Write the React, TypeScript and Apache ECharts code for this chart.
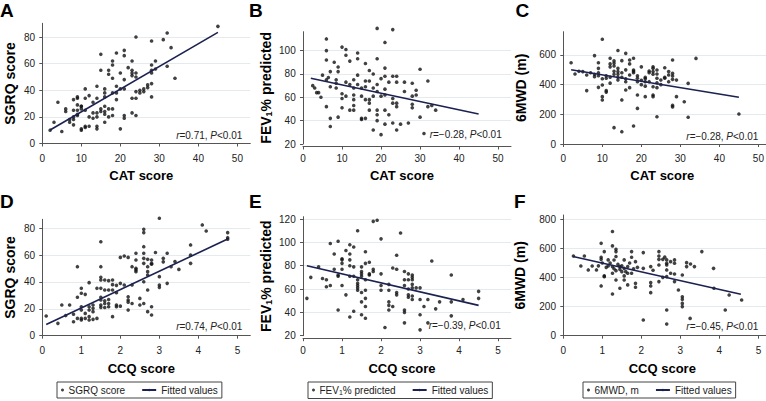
import React, { useEffect, useRef } from "react";
import * as echarts from "echarts";

// ---------- data ----------
// Panel A: CAT score vs SGRQ score
const pointsA: [number, number][] = [
  [45, 88], [32, 83], [31, 78], [24, 80], [28, 77], [33, 72], [15, 67], [19, 68], [21, 70], [21, 66],
  [18, 62], [23, 62], [18, 59], [29, 62], [28, 59], [32, 58], [15, 55], [17, 55], [17, 52], [18, 49],
  [22, 57], [23, 55], [23, 53], [23, 51], [24, 53], [29, 56], [28, 55], [28, 53], [20, 53], [21, 48],
  [24, 50], [34, 49], [27, 44], [28, 45], [26, 41], [25, 40], [26, 39], [24, 39], [27, 42], [19, 43],
  [20, 41], [21, 41], [19, 38], [18, 38], [19, 33], [16, 41], [16, 38], [16, 35], [14, 43], [11, 41],
  [12, 36], [11, 34], [14, 34], [13, 31], [9, 34], [8, 33], [4, 31], [9, 29], [10, 28], [10, 26],
  [6, 26], [6, 24], [8, 25], [9, 25], [11, 25], [15, 26], [16, 28], [17, 26], [18, 26], [16, 24],
  [15, 24], [13, 23], [14, 23], [14, 20], [13, 19], [12, 20], [16, 22], [18, 21], [17, 20], [16, 16],
  [12, 13], [11, 13], [10, 11], [10, 10], [11, 12], [14, 13], [14, 11], [8, 20], [8, 18], [8, 14],
  [7, 18], [7, 16], [9, 21], [9, 22], [3, 16], [2, 10], [5, 9], [20, 11], [21, 21], [21, 19],
  [23, 23], [24, 21], [23, 34], [24, 34], [25, 38], [28, 35], [9, 35], [10, 28],
];
const fitA: [number, number][] = [[2, 10.1], [45, 83.5]];

// Panel B: CAT score vs FEV1 % predicted
const pointsB: [number, number][] = [
  [19, 119], [23, 118], [6, 110], [6, 100], [6, 92], [6, 75], [6, 52], [7, 42], [7, 35], [8, 90],
  [9, 86], [10, 103], [11, 101], [11, 96], [12, 91], [14, 98], [16, 89], [17, 83], [19, 93], [21, 107],
  [21, 85], [24, 78], [30, 84], [32, 74], [2.5, 70], [3, 68], [3.5, 64], [4, 64], [5, 79], [6.5, 77],
  [7, 82], [7, 69], [8.5, 75], [8.5, 72], [8.5, 68], [10, 63], [10, 59], [11, 73], [11, 61], [12, 71],
  [13, 75], [13, 68], [13, 62], [13, 58], [13, 53], [13, 49], [14, 79], [14, 71], [15, 68], [15, 61],
  [15, 42], [16, 74], [16, 69], [16, 58], [16, 42], [17, 74], [17, 58], [17, 49], [18, 80], [18, 68],
  [18, 61], [18, 32], [19, 71], [19, 65], [19, 49], [19, 45], [20, 76], [20, 61], [20, 28], [21, 78],
  [21, 67], [21, 49], [21, 37], [22, 73], [22, 45], [23, 78], [23, 59], [23, 55], [23, 38], [24, 73],
  [24, 55], [24, 52], [24, 32], [25, 37], [26, 73], [26, 65], [27, 38], [28, 72], [28, 61], [28, 54],
  [28, 51], [29, 66], [29, 62], [30, 43], [31, 29], [32, 52], [33, 53], [34, 49], [4.6, 60], [9, 82],
  [9, 43], [14, 93], [17, 55], [21, 62], [19, 40], [10, 51], [12, 49], [15, 41],
];
const fitB: [number, number][] = [[2, 76.3], [45, 45.7]];

// Panel C: CAT score vs 6MWD (m)
const pointsC: [number, number][] = [
  [10, 706], [2, 548], [3, 472], [5, 488], [6, 360], [8, 596], [8, 454], [9, 548], [9, 510], [9, 382],
  [10, 398], [10, 319], [10, 297], [11, 443], [11, 360], [14, 630], [12, 578], [13, 560], [13, 544], [13, 526],
  [14, 510], [14, 488], [14, 470], [14, 450], [14, 431], [15, 562], [15, 297], [16, 611], [16, 500], [16, 364],
  [18, 578], [17, 566], [17, 465], [18, 499], [18, 481], [19, 443], [19, 420], [19, 330], [19, 240], [13, 110],
  [15, 83], [18, 121], [20, 520], [21, 449], [21, 420], [21, 319], [22, 492], [22, 481], [23, 521], [23, 510],
  [23, 488], [23, 386], [23, 330], [23, 319], [24, 499], [24, 472], [24, 443], [24, 413], [24, 184], [25, 431],
  [26, 514], [26, 443], [27, 488], [27, 465], [28, 566], [28, 476], [28, 458], [28, 436], [28, 260], [28, 250],
  [29, 431], [29, 319], [31, 285], [32, 409], [32, 180], [34, 577], [45, 202], [4, 490], [6, 465], [7, 480],
  [8, 470], [9, 480], [9, 460], [10, 440], [11, 460], [12, 450], [12, 520], [12, 540], [13, 490], [13, 470],
  [15, 480], [15, 450], [16, 440], [16, 420], [17, 380], [17, 540], [18, 490], [19, 460], [20, 430], [21, 390],
  [21, 440], [22, 420], [23, 470], [24, 380], [25, 400], [26, 450], [27, 420], [12, 410], [11, 350], [20, 400],
];
const fitC: [number, number][] = [[2, 500], [45, 315]];

// Panel D: CCQ score vs SGRQ score
const pointsD: [number, number][] = [
  [0.1, 14.7], [0.4, 9.2], [0.5, 22.9], [0.7, 22.9], [0.8, 10.4], [0.9, 28.6], [0.9, 12.9], [0.9, 51.4], [1.0, 35.3], [1.0, 31.6],
  [1.1, 30.8], [1.0, 21.6], [1.0, 19.1], [1.0, 12.9], [1.0, 11.7], [1.1, 16.6], [1.1, 12.9], [1.2, 39.5], [1.2, 21.6], [1.2, 19.1],
  [1.2, 14.2], [1.2, 11.7], [1.3, 22.9], [1.3, 20.4], [1.3, 17.9], [1.3, 12.2], [1.4, 35.3], [1.4, 12.9], [1.5, 70], [1.5, 51.4],
  [1.5, 43.5], [1.5, 41.5], [1.5, 35.3], [1.5, 28.6], [1.5, 26.6], [1.5, 22.9], [1.5, 21.1], [1.6, 34], [1.6, 26], [1.6, 24],
  [1.6, 21], [1.7, 41], [1.7, 34], [1.7, 27], [1.7, 24], [1.7, 21.6], [1.8, 41.5], [1.8, 38], [1.8, 34], [1.8, 14.2],
  [1.9, 37.5], [1.9, 32], [1.9, 22.9], [2.0, 58.3], [2.1, 59.4], [2.2, 58.3], [2.0, 39], [2.1, 37.8], [2.0, 22], [2.2, 29],
  [2.2, 26.6], [2.2, 19.1], [2.3, 51.4], [2.3, 37.8], [2.3, 24], [2.4, 61.4], [2.4, 56.4], [2.4, 50.2], [2.4, 49], [2.4, 47.7],
  [2.5, 27.8], [2.5, 22.9], [2.6, 76.8], [2.6, 61.4], [2.6, 57.6], [2.6, 53.9], [2.6, 40.2], [2.6, 24], [2.6, 66.3], [2.6, 79.3],
  [2.7, 56.9], [2.7, 51.4], [2.7, 47.7], [2.7, 45.2], [2.7, 17.9], [2.8, 56.4], [2.8, 53.9], [2.8, 53.2], [2.8, 21.6], [2.9, 62],
  [3.0, 87.5], [3.0, 44], [3.0, 37.8], [3.0, 36], [3.1, 57.6], [3.1, 55], [3.2, 61.4], [3.2, 39], [3.3, 51.4], [3.4, 55.2],
  [3.5, 49.4], [3.8, 60], [3.8, 67.6], [3.8, 53.9], [4.1, 82.5], [4.2, 78], [4.75, 76.8], [4.75, 73], [4.75, 71.8], [2.7, 34],
  [2.8, 15.4], [2.2, 25], [1.9, 21.6], [1.6, 41.5], [0.6, 15], [0.8, 16],
];
const fitD: [number, number][] = [[0.1, 8.4], [4.75, 72]];

// Panel E: CCQ score vs FEV1 % predicted
const pointsE: [number, number][] = [
  [0.1, 52], [0.2, 70], [0.4, 79], [0.5, 69], [0.6, 68], [0.6, 62], [0.7, 63], [0.7, 99], [0.8, 77], [0.8, 90],
  [0.9, 101], [0.9, 72], [0.9, 71], [0.9, 42], [1.0, 86], [1.0, 85], [1.0, 82], [1.0, 77], [1.0, 63], [1.1, 93],
  [1.1, 55], [1.2, 98], [1.2, 90], [1.2, 85], [1.2, 80], [1.2, 71], [1.2, 36], [1.3, 96], [1.3, 79], [1.3, 71],
  [1.3, 41], [1.4, 110], [1.4, 68], [1.4, 65], [1.4, 63], [1.4, 61], [1.4, 59], [1.5, 79], [1.5, 75], [1.5, 73],
  [1.5, 71], [1.5, 57], [1.5, 49], [1.5, 38], [1.6, 92], [1.6, 82], [1.6, 68], [1.6, 59], [1.6, 52], [1.6, 45],
  [1.6, 35], [1.7, 83], [1.7, 73], [1.7, 72], [1.8, 118], [1.9, 119], [1.8, 77], [1.8, 75], [2.0, 103], [2.0, 73],
  [2.0, 63], [2.0, 59], [2.1, 27], [2.2, 64], [2.2, 59], [2.2, 49], [2.2, 46], [2.2, 42], [2.3, 78], [2.4, 77],
  [2.3, 45], [2.4, 89], [2.4, 57], [2.4, 55], [2.5, 108], [2.6, 75], [2.6, 68], [2.6, 63], [2.6, 42], [2.6, 40],
  [2.6, 31], [2.7, 73], [2.7, 68], [2.7, 60], [2.7, 55], [2.7, 53], [2.8, 72], [2.8, 70], [2.8, 68], [2.8, 64],
  [2.8, 61], [2.8, 54], [2.8, 51], [2.9, 61], [3.0, 61], [3.0, 51], [3.0, 38], [3.0, 25], [3.1, 45], [3.2, 31],
  [3.3, 84], [3.2, 51], [3.4, 43], [3.5, 49], [3.8, 72], [3.8, 49], [3.8, 37], [4.1, 51], [4.5, 58], [4.5, 52],
];
const fitE: [number, number][] = [[0.1, 80], [4.5, 46]];

// Panel F: CCQ score vs 6MWD (m)
const pointsF: [number, number][] = [
  [0.26, 548], [0.54, 548], [0.45, 479], [0.64, 452], [0.74, 479], [0.85, 452], [0.97, 635], [0.97, 539], [0.97, 525], [0.97, 342],
  [1.05, 411], [1.05, 406], [1.05, 578], [1.15, 521], [1.15, 479], [1.26, 716], [1.26, 617], [1.26, 475], [1.26, 429], [1.26, 287],
  [1.35, 594], [1.35, 578], [1.35, 544], [1.35, 447], [1.35, 383], [1.45, 475], [1.45, 456], [1.45, 326], [1.56, 521], [1.56, 463],
  [1.56, 411], [1.56, 383], [1.65, 475], [1.65, 429], [1.65, 349], [1.75, 578], [1.75, 539], [1.75, 429], [1.85, 509], [1.85, 360],
  [1.85, 333], [2.05, 571], [2.05, 108], [2.05, 463], [2.24, 475], [2.24, 365], [2.24, 342], [2.24, 296], [2.45, 578], [2.45, 548],
  [2.45, 525], [2.45, 486], [2.45, 372], [2.55, 525], [2.55, 401], [2.65, 521], [2.65, 498], [2.65, 486], [2.65, 452], [2.65, 406],
  [2.65, 177], [2.65, 80], [2.75, 509], [2.75, 429], [2.85, 521], [2.85, 498], [2.85, 424], [2.85, 372], [2.95, 314], [3.05, 417],
  [3.05, 268], [3.05, 250], [3.05, 222], [3.05, 200], [3.16, 502], [3.16, 475], [3.25, 119], [3.26, 493], [3.36, 475], [3.55, 578],
  [3.85, 463], [3.86, 326], [4.15, 177], [4.25, 280], [4.57, 245], [1.1, 470], [1.2, 500], [1.3, 460], [1.4, 490], [1.5, 480],
  [1.6, 440], [1.7, 500], [1.8, 460], [1.9, 470], [1.0, 500], [1.3, 520], [1.5, 440], [2.3, 450], [2.6, 540], [0.9, 480],
];
const fitF: [number, number][] = [[0.25, 545], [4.55, 285]];

// ---------- text ----------
const xTitles = ["CAT score", "CAT score", "CAT score", "CCQ score", "CCQ score", "CCQ score"];
const yTitles = ["SGRQ score", "FEV{sub|1}% predicted", "6MWD (m)", "SGRQ score", "FEV{sub|1}% predicted", "6MWD (m)"];
const scatterNames = ["SGRQ score", "FEV1% predicted", "6MWD, m", "SGRQ score", "FEV1% predicted", "6MWD, m"];
const letters = ["A", "B", "C", "D", "E", "F"];
const corrTexts = [
  "{i|r}=0.71, {i|P}<0.01",
  "{i|r}=\u22120.28, {i|P}<0.01",
  "{i|r}=\u22120.28, {i|P}<0.01",
  "{i|r}=0.74, {i|P}<0.01",
  "{i|r}=\u22120.39, {i|P}<0.01",
  "{i|r}=\u22120.45, {i|P}<0.01",
];
const xTickStep = [10, 10, 10, 1, 1, 1];
const yTickStep = [20, 20, 200, 20, 20, 200];
const yMins = [0, 20, 0, 0, 20, 0];

const allPoints = [pointsA, pointsB, pointsC, pointsD, pointsE, pointsF];
const allFits = [fitA, fitB, fitC, fitD, fitE, fitF];

// ---------- layout ----------
const FONT = '"Liberation Sans", Arial, Helvetica, sans-serif';
const colX0 = [42.3, 303, 563.3];
const PLOT_W = 208;
const rows = [
  { top: [23.3, 31.7, 31.7], bottom: [143.5, 144, 144], ymax: [90.3, 116.2, 757] },
  { top: [219.3, 216.7, 215], bottom: [335.7, 335.7, 335.7], ymax: [86.7, 122, 829.6] },
];
const xMaxes = [53.3, 53.3, 53.3, 5.33, 5.33, 5.33];
const yNameGap = [23, 27, 33, 23, 27.5, 34];
const letterPos = [[0, 10], [249, 10], [515.5, 10], [0, 201.7], [249, 201.7], [514, 201.7]];
const corrPos = [[242.3, 135.7], [501.7, 134], [758.3, 136], [242.3, 326.5], [500.7, 325], [758.3, 326]];
const legendLeft = [57, 308, 583];

const NAVY = "#1b2150";
const AXIS = "#555";

export default function App() {
  const ref = useRef<HTMLDivElement>(null);
  useEffect(() => {
    if (!ref.current) return;
    const chart = echarts.init(ref.current, undefined, { renderer: "svg" });
    const grids: any[] = [];
    const xAxes: any[] = [];
    const yAxes: any[] = [];
    const series: any[] = [];
    const graphics: any[] = [];
    for (let i = 0; i < 6; i++) {
      const r = Math.floor(i / 3);
      const c = i % 3;
      const top = rows[r].top[c];
      const bottom = rows[r].bottom[c];
      grids.push({
        left: colX0[c],
        top,
        width: PLOT_W,
        height: bottom - top,
        containLabel: false,
        outerBoundsMode: "none",
      });
      xAxes.push({
        type: "value",
        gridIndex: i,
        min: 0,
        max: xMaxes[i],
        interval: xTickStep[i],
        offset: 2.5,
        name: xTitles[i],
        nameLocation: "middle",
        nameGap: r === 0 ? 22.8 : 23.6,
        nameTextStyle: { fontFamily: FONT, fontSize: 13, fontWeight: "bold", color: "#000", padding: [0, 10, 0, 0] },
        axisLine: { show: true, lineStyle: { color: AXIS, width: 1 } },
        axisTick: { show: true, length: 3, lineStyle: { color: AXIS } },
        axisLabel: { fontFamily: FONT, fontSize: 10, color: "#222", margin: 7, showMinLabel: true, showMaxLabel: false },
        splitLine: { show: false },
      });
      yAxes.push({
        type: "value",
        gridIndex: i,
        min: yMins[i],
        max: rows[r].ymax[c],
        interval: yTickStep[i],
        offset: 2.3,
        name: yTitles[i],
        nameLocation: "middle",
        nameGap: yNameGap[i],
        nameTextStyle: {
          fontFamily: FONT,
          fontSize: 14,
          fontWeight: "bold",
          color: "#000",
          rich: { sub: { fontFamily: FONT, fontSize: 9, fontWeight: "bold", color: "#000", padding: [6, 0, 0, 0] } },
        },
        axisLine: { show: true, lineStyle: { color: AXIS, width: 1 } },
        axisTick: { show: true, length: 3, lineStyle: { color: AXIS } },
        axisLabel: { fontFamily: FONT, fontSize: 10, color: "#222", margin: 5, showMinLabel: true, showMaxLabel: false },
        splitLine: { show: true, showMinLine: false, showMaxLine: false, lineStyle: { color: "#e4eaee", width: 1 } },
      });
      series.push({
        type: "scatter",
        name: scatterNames[i],
        xAxisIndex: i,
        yAxisIndex: i,
        data: allPoints[i],
        symbol: "circle",
        symbolSize: 3.6,
        clip: false,
        itemStyle: { color: "#111" },
        silent: true,
      });
      series.push({
        type: "line",
        name: "Fitted values",
        xAxisIndex: i,
        yAxisIndex: i,
        data: allFits[i],
        symbol: "none",
        showSymbol: false,
        lineStyle: { color: NAVY, width: 1.6 },
        itemStyle: { color: NAVY },
        z: 3,
        silent: true,
      });
      graphics.push({
        type: "text",
        x: letterPos[i][0],
        y: letterPos[i][1],
        style: {
          text: letters[i],
          fontFamily: FONT,
          fontSize: 19,
          fontWeight: "bold",
          fill: "#000",
          align: "left",
          verticalAlign: "middle",
        },
      });
      graphics.push({
        type: "text",
        x: corrPos[i][0],
        y: corrPos[i][1],
        z: 10,
        style: {
          text: corrTexts[i],
          fontFamily: FONT,
          fontSize: 10,
          fill: "#222",
          align: "right",
          verticalAlign: "middle",
          rich: { i: { fontFamily: FONT, fontSize: 10, fontStyle: "italic", fill: "#222" } },
        },
      });
    }
    const legends = [0, 1, 2].map((c) => ({
      show: true,
      orient: "horizontal",
      left: legendLeft[c],
      top: 382,
      data: [
        { name: scatterNames[3 + c], textStyle: { padding: [0, 0, 0, -6] } },
        { name: "Fitted values" },
      ],
      itemWidth: 14,
      itemHeight: 3,
      itemGap: 16,
      padding: [3, 4],
      borderColor: "#444",
      borderWidth: 1,
      backgroundColor: "#fff",
      selectedMode: false,
      formatter: (name: string) => (name === "FEV1% predicted" ? "FEV{sub|1}% predicted" : name),
      textStyle: {
        fontFamily: FONT,
        fontSize: 10,
        color: "#222",
        rich: { sub: { fontFamily: FONT, fontSize: 7, color: "#222", padding: [4, 0, 0, 0] } },
      },
    }));
    chart.setOption({
      animation: false,
      backgroundColor: "#fff",
      textStyle: { fontFamily: FONT },
      grid: grids,
      xAxis: xAxes,
      yAxis: yAxes,
      series,
      legend: legends,
      graphic: graphics,
    });
    return () => chart.dispose();
  }, []);
  return <div ref={ref} style={{ position: "absolute", left: 0, top: 0, width: 766, height: 401 }} />;
}
